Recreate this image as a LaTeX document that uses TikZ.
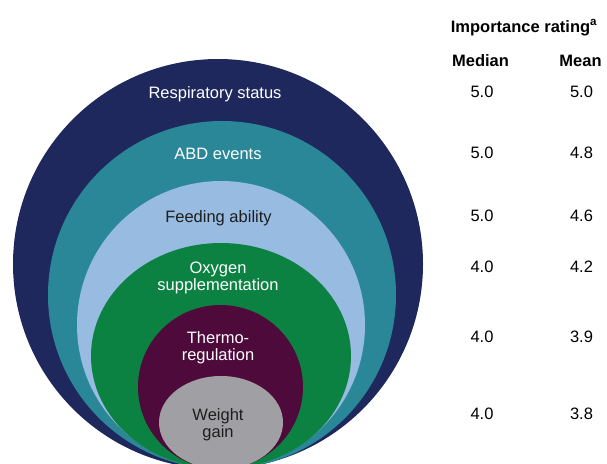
\documentclass[tikz,border=0pt]{standalone}
\usepackage{fontspec}
\setmainfont{Liberation Sans}
\usetikzlibrary{positioning}
\definecolor{navyring}{HTML}{1F285C}
\definecolor{tealring}{HTML}{2A8798}
\definecolor{skyring}{HTML}{98BBE2}
\definecolor{greenring}{HTML}{0C8242}
\definecolor{plumring}{HTML}{4E0A3A}
\definecolor{greyring}{HTML}{A0A0A4}
\definecolor{darktext}{HTML}{1E1E1E}
\begin{document}
\begin{tikzpicture}[x=1pt,y=-1pt,
    lbl/.style={font=\fontsize{16.5}{17}\selectfont, align=center, inner sep=0pt, anchor=base},
    hd/.style={font=\fontsize{16.5}{17}\selectfont\bfseries, inner sep=0pt, anchor=base}]
      \clip (0,0) rectangle (607,463);
      \fill[navyring] (218,264) ellipse [x radius=205, y radius=205];
      \fill[tealring] (222,295) ellipse [x radius=174, y radius=174];
      \fill[skyring] (221,325) ellipse [x radius=144, y radius=144];
      \fill[greenring] (221,356) ellipse [x radius=130, y radius=113];
      \fill[plumring] (220.5,387) ellipse [x radius=82.5, y radius=82];
      \fill[greyring] (221,422.5) ellipse [x radius=62, y radius=46.5];
      \node[lbl,white] (resp) at (215,98.5) {Respiratory status};
      \node[lbl,white] (abd) at (218,159) {ABD events};
      \node[lbl,darktext] (feed) at (218.5,222) {Feeding ability};
      \node[lbl,white] (oxy) at (218,290) {Oxygen\\supplementation};
      \node[lbl,white] (thermo) at (218,360) {Thermo-\\regulation};
      \node[lbl,darktext] (weight) at (218,437.5) {Weight\\gain};
      \node[hd] (rating) at (524,32) {Importance rating\textsuperscript{a}};
      \node[hd] (median) at (480.5,66.5) {Median};
      \node[hd] (mean) at (580.5,66.5) {Mean};
      \node[lbl] (md1) at (482,97.5) {5.0};
      \node[lbl] (mn1) at (581.5,97.5) {5.0};
      \node[lbl] (md2) at (482,158.3) {5.0};
      \node[lbl] (mn2) at (581.5,158.3) {4.8};
      \node[lbl] (md3) at (482,221.7) {5.0};
      \node[lbl] (mn3) at (581.5,221.7) {4.6};
      \node[lbl] (md4) at (482,272.7) {4.0};
      \node[lbl] (mn4) at (581.5,272.7) {4.2};
      \node[lbl] (md5) at (482,342.7) {4.0};
      \node[lbl] (mn5) at (581.5,342.7) {3.9};
      \node[lbl] (md6) at (482,419) {4.0};
      \node[lbl] (mn6) at (581.5,419) {3.8};
\end{tikzpicture}
\end{document}
